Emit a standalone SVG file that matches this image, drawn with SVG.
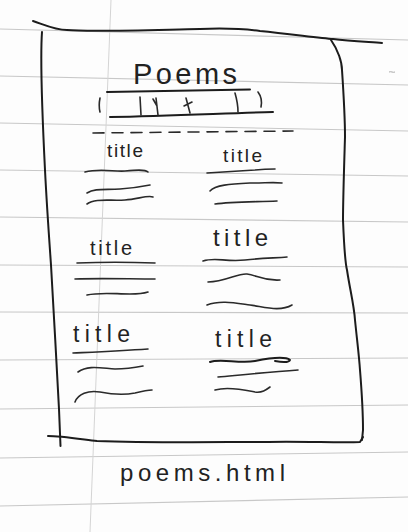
<svg xmlns="http://www.w3.org/2000/svg" width="408" height="532" viewBox="0 0 408 532">
  <style>
    .rule { stroke: #c8c8c8; stroke-width: 1.2; fill: none; }
    .margin { stroke: #d4d4d4; stroke-width: 1; fill: none; }
    .pen { stroke: #1c1c1c; stroke-width: 2; fill: none; stroke-linecap: round; stroke-linejoin: round; }
    .thin { stroke: #2a2a2a; stroke-width: 1.6; fill: none; stroke-linecap: round; stroke-linejoin: round; }
    .hand { font-family: "Liberation Sans", "DejaVu Sans", sans-serif; fill: #222; }
  </style>
  <rect width="408" height="532" fill="#fdfdfd"/>
  <g id="paper">
    <path class="rule" d="M0,29 L408,40"/>
    <path class="rule" d="M0,76 L408,85"/>
    <path class="rule" d="M0,123 L408,131"/>
    <path class="rule" d="M0,170 L408,176"/>
    <path class="rule" d="M0,217 L408,222"/>
    <path class="rule" d="M0,265 L408,267"/>
    <path class="rule" d="M0,312 L408,313"/>
    <path class="rule" d="M0,360 L408,358"/>
    <path class="rule" d="M0,409 L408,405"/>
    <path class="rule" d="M0,458 L408,452"/>
    <path class="rule" d="M0,506 L408,497"/>
    <path class="margin" d="M111,0 L90,532"/>
    <path d="M389,72 C391,71 393,73 395,72" stroke="#aaa" stroke-width="1" fill="none"/>
  </g>
  <g id="frame">
    <path class="pen" d="M33,21 C45,25 55,30 67,30 C90,32 150,30 200,29 C225,28 245,29 260,31 C290,34 320,38 333,39 C350,41 370,42 382,43"/>
    <path class="pen" d="M42,32 C40,60 43,130 45,170 C47,210 50,250 51,265 C53,300 57,370 59,409 L60.5,446"/>
    <path class="pen" d="M331,40 C338,50 342,62 342,70 C344,100 345,120 345,137 C344,170 343,200 343,220 C344,245 345,262 347,270 C350,290 354,305 355,320 C357,340 359,355 360,370 C362,395 363,415 363,430 L362,440"/>
    <path class="pen" d="M48,436 C60,436 80,439 97,441 C150,443 220,442 263,442 C300,441 340,443 360,442 L363,437"/>
  </g>
  <g id="header">
    <text class="hand" x="133" y="84" font-size="29" textLength="104" lengthAdjust="spacing">Poems</text>
  </g>
  <g id="nav">
    <path class="pen" d="M107,92 C150,91 200,90 250,89.5"/>
    <path class="pen" d="M110,117 C170,116 230,113 273,112"/>
    <path class="thin" d="M100,98 C99,103 99,108 100,112"/>
    <path class="thin" d="M140,97 L141,115"/>
    <path class="thin" d="M156,98 L158,115 M153,99 L157,106"/>
    <path class="thin" d="M186,98 L190,113 M184,106 L192,102"/>
    <path class="thin" d="M235,93 C237,100 238,106 238,112"/>
    <path class="thin" d="M258,92 C261,96 262,102 261,107"/>
  </g>
  <g id="divider">
    <path class="thin" d="M93,133 L293,131" stroke-dasharray="11 8"/>
  </g>
  <g id="card1">
    <text class="hand" x="107" y="157" font-size="19" textLength="36" lengthAdjust="spacing">title</text>
    <path class="thin" d="M85,172 C100,168 115,172 125,171 C135,170 145,169 148,172"/>
    <path class="thin" d="M87,193 C95,188 105,190 120,189 C135,188 145,186 150,185"/>
    <path class="thin" d="M87,204 C95,198 110,201 125,200 C138,199 148,195 153,197"/>
  </g>
  <g id="card2">
    <text class="hand" x="223" y="162" font-size="19" textLength="39" lengthAdjust="spacing">title</text>
    <path class="thin" d="M207,173 C225,172 240,171 255,170 C265,169 272,169 275,169"/>
    <path class="thin" d="M210,191 C215,185 230,184 250,183 C265,183 275,182 282,183"/>
    <path class="thin" d="M215,204 C230,202 250,202 277,201"/>
  </g>
  <g id="card3">
    <text class="hand" x="90" y="255" font-size="20" textLength="42" lengthAdjust="spacing">title</text>
    <path class="thin" d="M77,263 C100,262 130,262 155,263"/>
    <path class="thin" d="M75,279 C100,278 130,279 155,279"/>
    <path class="thin" d="M87,295 C100,292 115,294 130,294 C140,294 145,293 148,292"/>
  </g>
  <g id="card4">
    <text class="hand" x="213" y="246" font-size="24" textLength="55" lengthAdjust="spacing">title</text>
    <path class="thin" d="M203,261 C215,257 225,262 245,260 C262,258 275,258 287,257"/>
    <path class="thin" d="M208,282 C225,282 238,273 247,274 C257,275 262,281 280,280"/>
    <path class="thin" d="M207,305 C220,300 235,303 250,305 C265,307 280,312 292,305"/>
  </g>
  <g id="card5">
    <text class="hand" x="73" y="342" font-size="23" textLength="57" lengthAdjust="spacing">title</text>
    <path class="thin" d="M73,353 C95,352 120,351 148,349"/>
    <path class="thin" d="M78,372 C88,365 100,368 115,369 C128,369 138,367 143,366"/>
    <path class="thin" d="M75,402 C78,394 88,390 100,392 C115,395 125,395 135,393 C143,391 148,390 152,390"/>
  </g>
  <g id="card6">
    <text class="hand" x="215" y="347" font-size="23" textLength="57" lengthAdjust="spacing">title</text>
    <path class="pen" d="M210,362 C220,358 240,364 255,361 C270,358 285,356 290,360 C289,363 280,362 275,361"/>
    <path class="thin" d="M218,377 C240,375 270,372 298,370"/>
    <path class="thin" d="M215,390 C228,386 245,390 255,392 C262,393 266,390 270,387"/>
  </g>
  <g id="caption">
    <text class="hand" x="120" y="481" font-size="24" textLength="165" lengthAdjust="spacing" fill="#333">poems.html</text>
  </g>
</svg>
